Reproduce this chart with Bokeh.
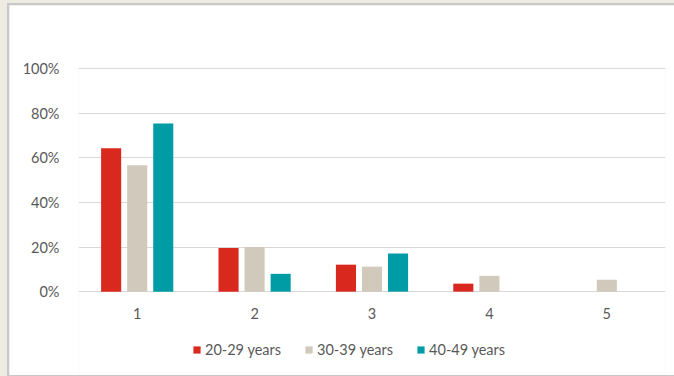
from bokeh.plotting import figure
from bokeh.models import ColumnDataSource, Range1d, Legend, LegendItem, FixedTicker
from bokeh.transform import dodge
from bokeh.core.properties import value
from bokeh.layouts import column
from bokeh.embed import file_html
from bokeh.resources import INLINE

categories = ["1", "2", "3", "4", "5"]
series_names = ["20-29 years", "30-39 years", "40-49 years"]
vals_20_29 = [64.3, 19.6, 12.1, 3.6, 0.0]
vals_30_39 = [56.7, 20.0, 11.2, 7.1, 5.3]
vals_40_49 = [75.4, 8.0, 17.1, 0.0, 0.0]
colors = ["#D9281E", "#D0C9BC", "#009CA6"]
y_ticks = [0, 20, 40, 60, 80, 100]
y_tick_labels = ["0%", "20%", "40%", "60%", "80%", "100%"]

FONT = "Lato"
FSIZE = "14.5px"
TEXT = "#595959"
GRID = "#D9D9D9"

source = ColumnDataSource(dict(cat=categories, s1=vals_20_29, s2=vals_30_39, s3=vals_40_49,
                               ly=[-9.6] * len(categories)))

p = figure(width=667, height=373, x_range=categories, y_range=Range1d(-38.46, 100.45),
           output_backend="svg", toolbar_location=None,
           min_border_left=69, min_border_right=11, min_border_top=62, min_border_bottom=1,
           margin=(3, 0, 0, 7))
p.styles = {"border-left": "2px solid #C8C8C8", "border-top": "2px solid #C8C8C8",
            "border-bottom": "1px solid #C8C8C8", "box-sizing": "border-box"}
p.border_fill_color = "white"
p.background_fill_color = "white"
p.outline_line_color = None

offsets = [-0.222, 0.0, 0.222]
renderers = []
for key, off, col in zip(["s1", "s2", "s3"], offsets, colors):
    r = p.vbar(x=dodge("cat", off, range=p.x_range), top=key, width=0.171, bottom=0,
               source=source, fill_color=col, line_color=None)
    renderers.append(r)

# category labels (x axis labels)
p.text(x="cat", y="ly", text="cat", source=source, text_align="center",
       text_baseline="middle", text_font=value(FONT), text_font_size=FSIZE,
       text_color=TEXT)

p.xaxis.visible = False
p.xgrid.grid_line_color = None
p.ygrid.grid_line_color = GRID
p.ygrid.grid_line_width = 1
p.ygrid.ticker = FixedTicker(ticks=y_ticks)

p.yaxis.ticker = FixedTicker(ticks=y_ticks)
p.yaxis.major_label_overrides = {t: l for t, l in zip(y_ticks, y_tick_labels)}
p.yaxis.axis_line_color = None
p.yaxis.major_tick_line_color = None
p.yaxis.minor_tick_line_color = None
p.yaxis.major_label_standoff = 13
p.yaxis.major_label_text_font = FONT
p.yaxis.major_label_text_font_size = FSIZE
p.yaxis.major_label_text_color = TEXT

legend = Legend(items=[LegendItem(label=n, renderers=[r]) for n, r in zip(series_names, renderers)],
                orientation="horizontal", location=(114, 19),
                label_text_font=FONT, label_text_font_size=FSIZE, label_text_color=TEXT,
                glyph_width=9, glyph_height=9, label_standoff=4, spacing=23,
                border_line_color=None, background_fill_alpha=0, padding=0, margin=0)
p.add_layout(legend, "center")

layout = column(p, width=674, height=376, styles={"background-color": "#EEEBE3"})
open("out.html", "w").write(file_html(layout, INLINE))
